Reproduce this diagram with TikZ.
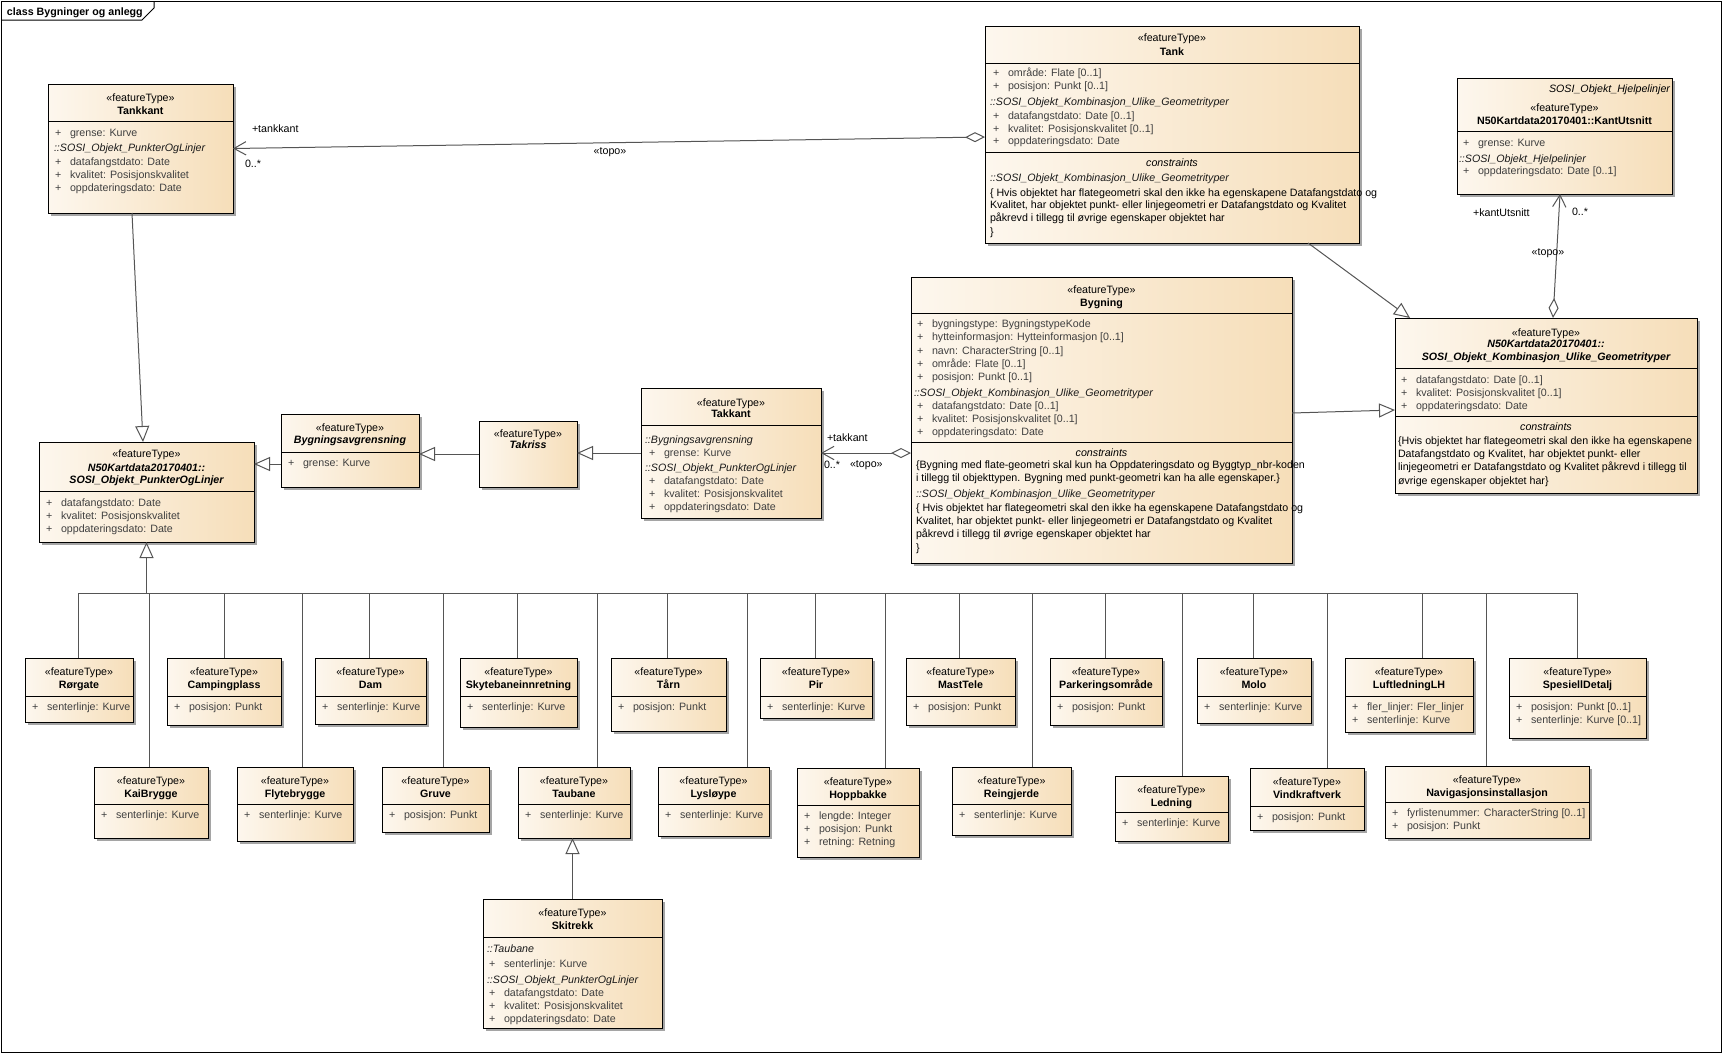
\documentclass[tikz,border=0pt]{standalone}
\usepackage{fontspec}
\setmainfont{Liberation Sans}
\usetikzlibrary{arrows.meta,fit,calc}
\definecolor{boxL}{RGB}{253,247,238}
\definecolor{boxR}{RGB}{246,222,185}
\definecolor{shadowc}{RGB}{165,165,165}
\definecolor{linec}{RGB}{85,85,85}
\definecolor{attrc}{RGB}{64,64,64}
\definecolor{itc}{RGB}{25,25,25}
\newcounter{tn}
\tikzset{
  every node/.style={inner sep=0pt, outer sep=0pt},
  txt/.style={font=\fontsize{8}{9.6}\selectfont, yshift=-3pt},
  stt/.style={txt, anchor=base},
  cnt/.style={txt, anchor=base, font=\fontsize{8}{9.6}\selectfont\bfseries},
  cnti/.style={txt, anchor=base, font=\fontsize{8}{9.6}\selectfont\bfseries\itshape},
  att/.style={txt, anchor=base west, text=attrc},
  itt/.style={txt, anchor=base west, text=itc, font=\fontsize{8}{9.6}\selectfont\itshape},
  itc/.style={txt, anchor=base, font=\fontsize{8}{9.6}\selectfont\itshape},
  itr/.style={txt, anchor=base east, font=\fontsize{8}{9.6}\selectfont\itshape},
  cst/.style={txt, anchor=base west},
  lbt/.style={txt, anchor=base west},
  lbc/.style={txt, anchor=base},
  umlbox/.style={draw=black, line width=0.75pt, left color=boxL, right color=boxR, inner sep=0pt},
  conn/.style={draw=linec, line width=0.75pt},
  gen/.style={conn, -{Triangle[length=12pt,width=10.5pt,fill=white]}},
  agg/.style={conn, {Diamond[length=15pt,width=7.5pt,fill=white]}-{Straight Barb[length=9pt,width=10pt]}},
}
\newcommand\ubox[5]{%
  \fill[shadowc] ({#2+3},{#3+3}) rectangle ({#4+3},{#5+3});
  \node[umlbox, fit={({#2},{#3}) ({#4},{#5})}] (#1) {};}
\newcommand\usep[3]{\draw[black, line width=0.75pt] ({#1},{#3}) -- ({#2},{#3});}
\newcommand\ster[2]{\stepcounter{tn}\node[stt,name=t\arabic{tn}] at ({#1},{#2}) {«featureType»};}
\newcommand\cname[3]{\stepcounter{tn}\node[cnt,name=t\arabic{tn}] at ({#1},{#2}) {#3};}
\newcommand\cnamei[3]{\stepcounter{tn}\node[cnti,name=t\arabic{tn}] at ({#1},{#2}) {#3};}
\newcommand\atr[3]{\stepcounter{tn}\node[att,name=t\arabic{tn}] at ({#1},{#2}) {+};
  \stepcounter{tn}\node[att,name=t\arabic{tn}] at ({#1+15},{#2}) {#3};}
\newcommand\itl[3]{\stepcounter{tn}\node[itt,name=t\arabic{tn}] at ({#1},{#2}) {#3};}
\newcommand\itcn[3]{\stepcounter{tn}\node[itc,name=t\arabic{tn}] at ({#1},{#2}) {#3};}
\newcommand\itrt[3]{\stepcounter{tn}\node[itr,name=t\arabic{tn}] at ({#1},{#2}) {#3};}
\newcommand\cns[3]{\stepcounter{tn}\node[cst,name=t\arabic{tn}] at ({#1},{#2}) {#3};}
\newcommand\lbl[3]{\stepcounter{tn}\node[lbt,name=t\arabic{tn}] at ({#1},{#2}) {#3};}
\newcommand\lblc[3]{\stepcounter{tn}\node[lbc,name=t\arabic{tn}] at ({#1},{#2}) {#3};}
% leaf: name x1 y1 x2 y2 sep title attr1
\newcommand\leaf[8]{%
  \ubox{#1}{#2}{#3}{#4}{#5}
  \usep{#2}{#4}{#6}
  \ster{(#2+#4)/2}{#3+13}
  \cname{(#2+#4)/2}{#3+26}{#7}
  \atr{#2+7}{#6+10}{#8}}
\newcommand\treeline[2]{%
  \coordinate (tl#1) at ($(#1.north)+(#2,0)$);
  \draw[conn] (tl#1) -- (tl#1 |- bar);}
\begin{document}
\begin{tikzpicture}[x=0.75pt,y=-0.75pt]
\useasboundingbox (0,0) rectangle (1723,1054);
\fill[white] (0,0) rectangle (1723,1054);
% frame
\draw[black, line width=0.75pt] (1.5,1.5) rectangle (1721,1052);
\draw[black, line width=0.75pt] (1.5,20) -- (142,20) -- (154,8) -- (154,1.5);
\stepcounter{tn}\node[txt, anchor=base west, font=\fontsize{8}{9.6}\selectfont\bfseries, name=t\arabic{tn}] at (7,11) {class Bygninger og anlegg};

% Tankkant
\ubox{tankkant}{48}{84}{233}{213}
\usep{48}{233}{121}
\ster{140.5}{97}
\cname{140.5}{110}{Tankkant}
\atr{55}{132}{grense: Kurve}
\itl{54}{147}{::SOSI\_Objekt\_PunkterOgLinjer}
\atr{55}{161}{datafangstdato: Date}
\atr{55}{174}{kvalitet: Posisjonskvalitet}
\atr{55}{187}{oppdateringsdato: Date}

% Tank
\ubox{tank}{985}{26}{1359}{243}
\usep{985}{1359}{63}
\usep{985}{1359}{152}
\ster{1172}{37}
\cname{1172}{51}{Tank}
\atr{993}{72}{område: Flate [0..1]}
\atr{993}{85}{posisjon: Punkt [0..1]}
\itl{990}{101}{::SOSI\_Objekt\_Kombinasjon\_Ulike\_Geometrityper}
\atr{993}{115}{datafangstdato: Date [0..1]}
\atr{993}{128}{kvalitet: Posisjonskvalitet [0..1]}
\atr{993}{140}{oppdateringsdato: Date}
\itcn{1172}{162}{constraints}
\itl{990}{177}{::SOSI\_Objekt\_Kombinasjon\_Ulike\_Geometrityper}
\cns{990}{192}{\{ Hvis objektet har flategeometri skal den ikke ha egenskapene Datafangstdato og}
\cns{990}{204}{Kvalitet, har objektet punkt- eller linjegeometri er Datafangstdato og Kvalitet}
\cns{990}{217}{påkrevd i tillegg til øvrige egenskaper objektet har}
\cns{990}{231}{\}}

% KantUtsnitt
\ubox{kant}{1457}{78}{1672}{194}
\usep{1457}{1672}{131}
\itrt{1670}{88}{SOSI\_Objekt\_Hjelpelinjer}
\ster{1564.5}{107}
\cname{1564.5}{120}{N50Kartdata20170401::KantUtsnitt}
\atr{1463}{142}{grense: Kurve}
\itl{1459}{158}{::SOSI\_Objekt\_Hjelpelinjer}
\atr{1463}{170}{oppdateringsdato: Date [0..1]}

% Bygning
\ubox{bygning}{911}{277}{1292}{563}
\usep{911}{1292}{313}
\usep{911}{1292}{442}
\ster{1101.5}{289}
\cname{1101.5}{302}{Bygning}
\atr{917}{323}{bygningstype: BygningstypeKode}
\atr{917}{336}{hytteinformasjon: Hytteinformasjon [0..1]}
\atr{917}{350}{navn: CharacterString [0..1]}
\atr{917}{363}{område: Flate [0..1]}
\atr{917}{376}{posisjon: Punkt [0..1]}
\itl{914}{392}{::SOSI\_Objekt\_Kombinasjon\_Ulike\_Geometrityper}
\atr{917}{405}{datafangstdato: Date [0..1]}
\atr{917}{418}{kvalitet: Posisjonskvalitet [0..1]}
\atr{917}{431}{oppdateringsdato: Date}
\itcn{1101.5}{452}{constraints}
\cns{916}{464}{\{Bygning med flate-geometri skal kun ha Oppdateringsdato og Byggtyp\_nbr-koden}
\cns{916}{477}{i tillegg til objekttypen. Bygning med punkt-geometri kan ha alle egenskaper.\}}
\itl{916}{493}{::SOSI\_Objekt\_Kombinasjon\_Ulike\_Geometrityper}
\cns{916}{507}{\{ Hvis objektet har flategeometri skal den ikke ha egenskapene Datafangstdato og}
\cns{916}{520}{Kvalitet, har objektet punkt- eller linjegeometri er Datafangstdato og Kvalitet}
\cns{916}{533}{påkrevd i tillegg til øvrige egenskaper objektet har}
\cns{916}{547}{\}}

% Kombinasjon
\ubox{komb}{1395}{318}{1697}{493}
\usep{1395}{1697}{368}
\usep{1395}{1697}{416}
\ster{1546}{332}
\cnamei{1546}{343}{N50Kartdata20170401::}
\cnamei{1546}{356}{SOSI\_Objekt\_Kombinasjon\_Ulike\_Geometrityper}
\atr{1401}{379}{datafangstdato: Date [0..1]}
\atr{1401}{392}{kvalitet: Posisjonskvalitet [0..1]}
\atr{1401}{405}{oppdateringsdato: Date}
\itcn{1546}{426}{constraints}
\cns{1398}{440}{\{Hvis objektet har flategeometri skal den ikke ha egenskapene}
\cns{1398}{453}{Datafangstdato og Kvalitet, har objektet punkt- eller}
\cns{1398}{466}{linjegeometri er Datafangstdato og Kvalitet påkrevd i tillegg til}
\cns{1398}{480}{øvrige egenskaper objektet har\}}

% PunkterOgLinjer
\ubox{punkter}{39}{442}{254}{542}
\usep{39}{254}{491}
\ster{146.5}{453}
\cnamei{146.5}{467}{N50Kartdata20170401::}
\cnamei{146.5}{479}{SOSI\_Objekt\_PunkterOgLinjer}
\atr{46}{502}{datafangstdato: Date}
\atr{46}{515}{kvalitet: Posisjonskvalitet}
\atr{46}{528}{oppdateringsdato: Date}

% Bygningsavgrensning
\ubox{bygav}{281}{414}{419}{487}
\usep{281}{419}{452}
\ster{350}{427}
\cnamei{350}{439}{Bygningsavgrensning}
\atr{288}{462}{grense: Kurve}

% Takriss
\ubox{takriss}{479}{421}{577}{487}
\ster{528}{433}
\cnamei{528}{444}{Takriss}

% Takkant
\ubox{takkant}{641}{388}{821}{518}
\usep{641}{821}{425}
\ster{731}{402}
\cname{731}{413}{Takkant}
\itl{645}{439}{::Bygningsavgrensning}
\atr{649}{452}{grense: Kurve}
\itl{645}{467}{::SOSI\_Objekt\_PunkterOgLinjer}
\atr{649}{480}{datafangstdato: Date}
\atr{649}{493}{kvalitet: Posisjonskvalitet}
\atr{649}{506}{oppdateringsdato: Date}

% Skitrekk
\ubox{skitrekk}{483}{899}{662}{1028}
\usep{483}{662}{937}
\ster{572.5}{912}
\cname{572.5}{925}{Skitrekk}
\itl{487}{948}{::Taubane}
\atr{489}{963}{senterlinje: Kurve}
\itl{487}{979}{::SOSI\_Objekt\_PunkterOgLinjer}
\atr{489}{992}{datafangstdato: Date}
\atr{489}{1005}{kvalitet: Posisjonskvalitet}
\atr{489}{1018}{oppdateringsdato: Date}

% leaves row 1
\leaf{rorgate}{25}{658}{133}{722}{696}{Rørgate}{senterlinje: Kurve}
\leaf{camping}{167}{658}{281}{725}{696}{Campingplass}{posisjon: Punkt}
\leaf{dam}{315}{658}{426}{724}{696}{Dam}{senterlinje: Kurve}
\leaf{skyte}{460}{658}{577}{727}{696}{Skytebaneinnretning}{senterlinje: Kurve}
\leaf{taarn}{611}{658}{726}{731}{696}{Tårn}{posisjon: Punkt}
\leaf{pir}{760}{658}{872}{718}{696}{Pir}{senterlinje: Kurve}
\leaf{masttele}{906}{658}{1015}{725}{696}{MastTele}{posisjon: Punkt}
\leaf{parkering}{1050}{658}{1162}{725}{696}{Parkeringsområde}{posisjon: Punkt}
\leaf{molo}{1197}{658}{1311}{723}{696}{Molo}{senterlinje: Kurve}
\leaf{luft}{1345}{658}{1473}{732}{696}{LuftledningLH}{fler\_linjer: Fler\_linjer}
\atr{1352}{719}{senterlinje: Kurve}
\leaf{spesiell}{1509}{658}{1646}{738}{696}{SpesiellDetalj}{posisjon: Punkt [0..1]}
\atr{1516}{719}{senterlinje: Kurve [0..1]}

% leaves row 2
\leaf{kai}{94}{767}{208}{838}{804}{KaiBrygge}{senterlinje: Kurve}
\leaf{flyte}{237}{767}{353}{841}{804}{Flytebrygge}{senterlinje: Kurve}
\leaf{gruve}{382}{767}{489}{832}{804}{Gruve}{posisjon: Punkt}
\leaf{taubane}{518}{767}{630}{838}{804}{Taubane}{senterlinje: Kurve}
\leaf{lys}{658}{767}{769}{836}{804}{Lysløype}{senterlinje: Kurve}
\leaf{hopp}{797}{768}{919}{857}{805}{Hoppbakke}{lengde: Integer}
\atr{804}{828}{posisjon: Punkt}
\atr{804}{841}{retning: Retning}
\leaf{rein}{952}{767}{1071}{835}{804}{Reingjerde}{senterlinje: Kurve}
\leaf{ledning}{1115}{776}{1228}{841}{812}{Ledning}{senterlinje: Kurve}
\leaf{vind}{1250}{768}{1364}{830}{806}{Vindkraftverk}{posisjon: Punkt}
\leaf{navi}{1385}{766}{1589}{838}{802}{Navigasjonsinstallasjon}{fyrlistenummer: CharacterString [0..1]}
\atr{1392}{825}{posisjon: Punkt}

% tree of generalizations
\coordinate (bar) at (147,593);
\draw[conn] (bar -| rorgate.north) -- (bar -| spesiell.north);
\draw[gen] (punkter.south |- bar) -- (punkter.south);
\treeline{rorgate}{-1}
\treeline{camping}{0}
\treeline{dam}{-1.5}
\treeline{skyte}{-1.5}
\treeline{taarn}{-1.5}
\treeline{pir}{-1}
\treeline{masttele}{-1.5}
\treeline{parkering}{-1}
\treeline{molo}{-1}
\treeline{luft}{13}
\treeline{spesiell}{0}
\treeline{kai}{-2}
\treeline{flyte}{7}
\treeline{gruve}{7.5}
\treeline{taubane}{23}
\treeline{lys}{33.5}
\treeline{hopp}{27}
\treeline{rein}{20.5}
\treeline{ledning}{10.5}
\treeline{vind}{20}
\treeline{navi}{-1}

% other generalizations
\draw[gen] ($(tankkant.south)+(-8.5,0)$) -- ($(punkter.north)+(-3.5,0)$);
\draw[gen] ($(bygav.west)+(0,13.5)$) coordinate (g1) -- (g1 -| punkter.east);
\draw[gen] (takriss.west) -- (takriss.west -| bygav.east);
\draw[gen] (takkant.west) -- (takkant.west -| takriss.east);
\draw[gen] ($(bygning.east)+(0,-7)$) -- ($(komb.west)+(0,4.5)$);
\draw[gen] ($(tank.south)+(136,0)$) -- ($(komb.north west)+(15,0)$);
\draw[gen] (skitrekk.north) -- (skitrekk.north |- taubane.south);

% aggregations
\draw[agg] ($(tank.west)+(0,2.5)$) -- (tankkant.east);
\draw[agg] (takkant.east -| bygning.west) -- (takkant.east);
\draw[agg] ($(komb.north)+(7,0)$) -- ($(kant.south)+(-4.5,0)$);

% labels
\lbl{252}{128}{+tankkant}
\lbl{245}{163}{0..*}
\lblc{610}{150}{«topo»}
\lbl{827}{437}{+takkant}
\lbl{824}{464}{0..*}
\lbl{850}{463}{«topo»}
\lbl{1473}{212}{+kantUtsnitt}
\lbl{1572}{211}{0..*}
\lblc{1548}{251}{«topo»}
\end{tikzpicture}
\end{document}
